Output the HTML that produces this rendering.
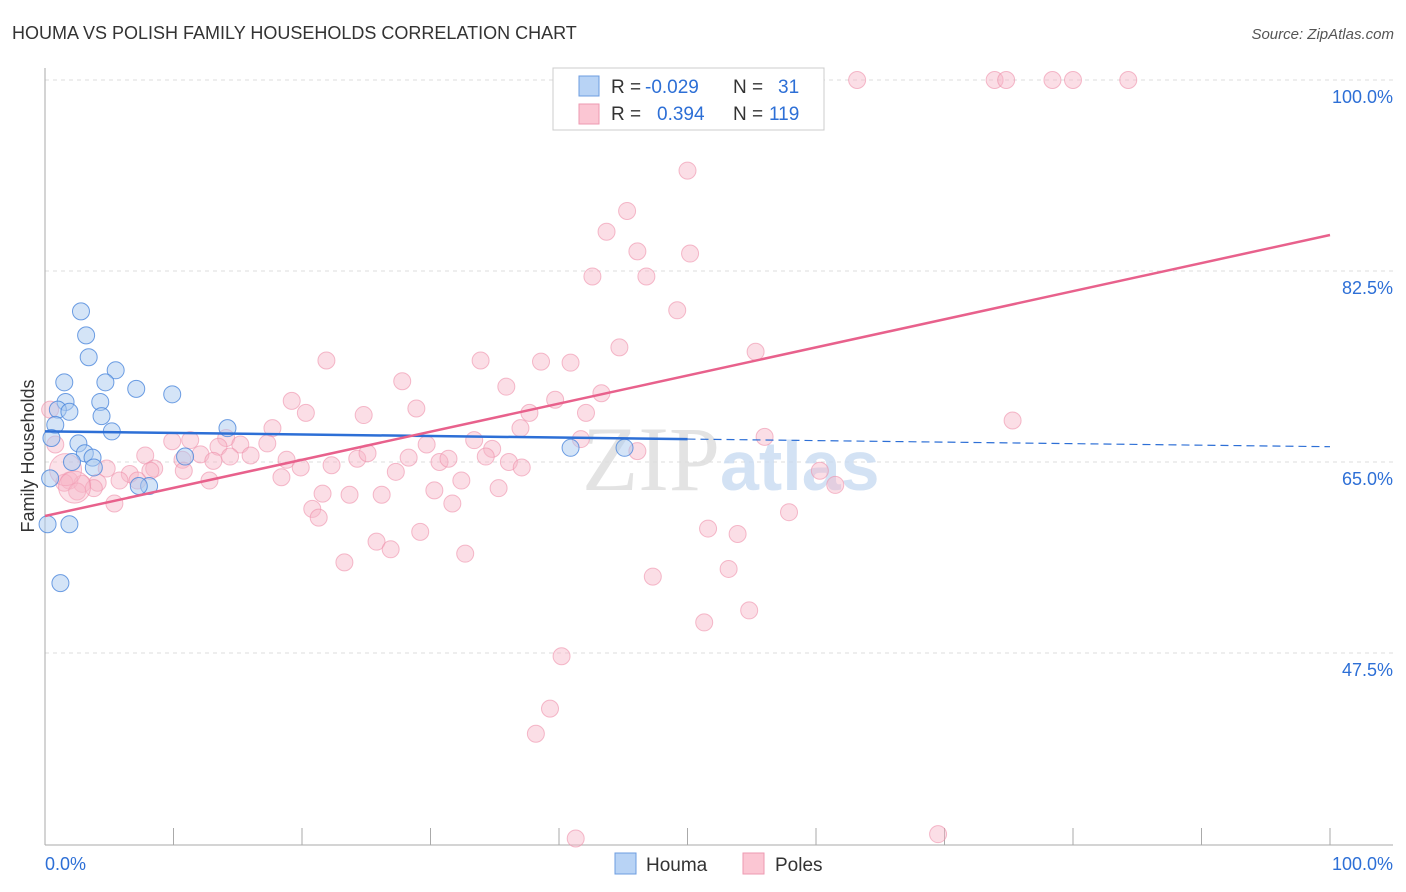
<!DOCTYPE html>
<html><head><meta charset="utf-8"><style>
body{margin:0;background:#fff;font-family:"Liberation Sans",sans-serif}
svg{display:block}
</style></head><body>
<svg id="c" width="1406" height="892">
<text x="12" y="39" font-size="18" fill="#333">HOUMA VS POLISH FAMILY HOUSEHOLDS CORRELATION CHART</text>
<text x="1394" y="39" font-size="15" fill="#555" text-anchor="end" font-style="italic">Source: ZipAtlas.com</text>
<text transform="translate(34,456) rotate(-90)" font-size="18" fill="#333" text-anchor="middle">Family Households</text>
<g id="grid"></g>
<text x="720" y="490" font-size="92" fill="#ddd" text-anchor="end" font-family="Liberation Serif" opacity="0.8">ZIP</text>
<text x="720" y="490" font-size="70" fill="#c9dbf2" font-weight="bold" opacity="0.8">atlas</text>
<g id="pts"></g>
<g id="lines"></g>
<g>
<rect x="553" y="68" width="271" height="62" fill="#fff" stroke="#ccc"/>
<rect x="579" y="76" width="20" height="20" fill="#b8d3f5" stroke="#6d9de0"/>
<rect x="579" y="104" width="20" height="20" fill="#fbc6d3" stroke="#ee9ab1"/>
<text y="93" font-size="19" fill="#333"><tspan x="611">R =</tspan><tspan x="645" fill="#2d6fd6">-0.029</tspan><tspan x="733">N =</tspan><tspan x="778" fill="#2d6fd6">31</tspan></text>
<text y="120" font-size="19" fill="#333"><tspan x="611">R =</tspan><tspan x="657" fill="#2d6fd6">0.394</tspan><tspan x="733">N =</tspan><tspan x="769" fill="#2d6fd6">119</tspan></text>
</g>
<g>
<rect x="615" y="853" width="21" height="21" fill="#b8d3f5" stroke="#6d9de0"/>
<text x="646" y="871" font-size="19" fill="#333">Houma</text>
<rect x="743" y="853" width="21" height="21" fill="#fbc6d3" stroke="#ee9ab1"/>
<text x="775" y="871" font-size="19" fill="#333">Poles</text>
</g>
<text x="45" y="870" font-size="18" fill="#2d6fd6">0.0%</text>
<text x="1393" y="870" font-size="18" fill="#2d6fd6" text-anchor="end">100.0%</text>
</svg>
<script>
const houmaX=[2.8,3.2,3.4,5.5,1.5,4.7,7.1,9.9,1.6,4.3,1.0,1.9,4.4,0.8,5.2,14.2,0.5,2.6,3.1,3.7,2.1,3.8,10.9,0.4,8.1,7.3,0.2,1.9,1.2,40.9,45.1];
const houmaY=[78.8,76.6,74.6,73.4,72.3,72.3,71.7,71.2,70.5,70.5,69.8,69.6,69.2,68.4,67.8,68.1,67.2,66.7,65.8,65.4,65.0,64.5,65.5,63.5,62.8,62.8,59.3,59.3,53.9,66.3,66.3];
const polesX=[47.9,50.0,63.2,73.9,74.8,78.4,80.0,84.3,50.0,45.3,43.7,46.1,50.2,42.6,46.8,49.2,44.7,55.3,21.9,33.9,38.6,40.9,27.8,35.9,43.3,19.2,39.7,28.9,20.3,24.8,37.7,42.1,75.3,37.0,17.7,41.7,56.0,33.4,29.7,46.1,34.8,17.3,11.3,14.1,13.5,15.2,16.0,14.4,9.9,12.1,10.7,7.8,8.5,13.1,18.8,19.9,22.3,24.3,25.1,28.3,30.7,31.4,34.3,36.1,37.1,27.3,8.2,4.8,6.6,10.8,12.8,18.4,60.3,61.5,5.8,1.9,1.5,2.9,4.1,3.8,2.5,7.2,5.4,30.3,32.4,35.3,21.6,23.7,26.2,31.7,20.8,21.3,57.9,29.2,51.6,53.9,25.8,26.9,32.7,23.3,47.3,53.2,54.8,51.3,40.2,39.3,38.2,41.3,69.5,0.4,0.8,1.6,2.3];
const polesY=[100,100,100,100,100,100,100,100,91.7,88.0,86.1,84.3,84.1,82.0,82.0,78.9,75.5,75.1,74.3,74.3,74.2,74.1,72.4,71.9,71.3,70.6,70.7,69.9,69.5,69.3,69.5,69.5,68.8,68.1,68.1,67.1,67.3,67.0,66.6,66.0,66.2,66.7,67.0,67.2,66.4,66.6,65.6,65.5,66.9,65.7,65.2,65.6,64.4,65.1,65.2,64.5,64.7,65.3,65.8,65.4,65.0,65.3,65.5,65.0,64.5,64.1,64.2,64.4,63.9,64.2,63.3,63.6,64.2,62.9,63.3,63.3,63.1,63.0,63.1,62.6,62.3,63.3,61.2,62.4,63.3,62.6,62.1,62.0,62.0,61.2,60.7,59.9,60.4,58.6,58.9,58.4,57.7,57.0,56.6,55.8,54.5,55.2,51.4,50.3,47.2,42.4,40.1,30.5,30.9,69.8,66.6,64.3,62.7];
const polesBig=[111,112,113,114];
const yTicks=[100,82.5,65,47.5];
const yTickLabels=["100.0%","82.5%","65.0%","47.5%"];
const xTicks=[0,10,20,30,40,50,60,70,80,90,100];
const houmaTrend=[67.8,66.4];
const polesTrend=[60.05,85.8];
const X=v=>45+v*12.85, Y=v=>80+(100-v)*10.914;
const NS="http://www.w3.org/2000/svg";
function mk(t,a,p){const e=document.createElementNS(NS,t);for(const k in a)e.setAttribute(k,a[k]);p.appendChild(e);return e;}
const g=document.getElementById('grid'),pts=document.getElementById('pts'),ln=document.getElementById('lines');
yTicks.forEach((v,i)=>{
 const l=mk('line',{x1:45,x2:1393,y1:Y(v),y2:Y(v),stroke:'#ddd','stroke-dasharray':'4,4'},g);
 
 
 const t=mk('text',{x:1393,y:Y(v)+23,'font-size':18,fill:'#2d6fd6','text-anchor':'end'},g);
 t.textContent=yTickLabels[i];
 
 
});
const ax=mk('line',{x1:45,x2:45,y1:68,y2:845,stroke:'#aaa'},g);


const bx=mk('line',{x1:45,x2:1393,y1:845,y2:845,stroke:'#aaa'},g);


xTicks.forEach(v=>{
 const t=mk('line',{x1:X(v),x2:X(v),y1:828,y2:845,stroke:'#aaa'},g);
 
 
});
polesX.forEach((x,i)=>{
 const big=polesBig.includes(i);
 const c=mk('circle',{cx:X(x),cy:Y(polesY[i]),r:big?16:8.5,fill:'#f7b6c8','fill-opacity':big?0.4:0.45,stroke:'#ee8faa','stroke-opacity':0.6},pts);
 
 
});
houmaX.forEach((x,i)=>{
 const c=mk('circle',{cx:X(x),cy:Y(houmaY[i]),r:8.5,fill:'#a9c9f0','fill-opacity':0.5,stroke:'#4a86dc','stroke-opacity':0.8},pts);
 
 
});
const hy=x=>houmaTrend[0]+(houmaTrend[1]-houmaTrend[0])*x/100;
const l1=mk('line',{x1:X(0),y1:Y(hy(0)),x2:X(50),y2:Y(hy(50)),stroke:'#2d6fd6','stroke-width':2.5},ln);


const l2=mk('line',{x1:X(50),y1:Y(hy(50)),x2:X(100),y2:Y(hy(100)),stroke:'#2d6fd6','stroke-width':1.2,'stroke-dasharray':'8,5'},ln);


const l3=mk('line',{x1:X(0),y1:Y(polesTrend[0]),x2:X(100),y2:Y(polesTrend[1]),stroke:'#e8618c','stroke-width':2.5},ln);


</script>
</body></html>
